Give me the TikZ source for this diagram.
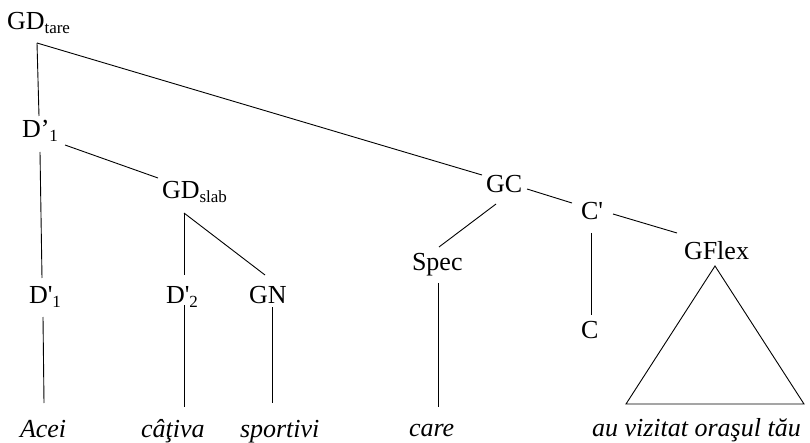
\documentclass[tikz,border=0pt]{standalone}
\usepackage{fontspec}
\setmainfont{Liberation Serif}
\newfontfamily\plainrm{Liberation Serif}[Ligatures=TeXOff]
\usetikzlibrary{calc}
\newcommand\subtxt[1]{\raisebox{-4pt}{\fontsize{17}{17}\selectfont #1}}
\newcommand\sq{{\plainrm'}}
\begin{document}
\begin{tikzpicture}[x=1pt,y=-1pt,
  lbl/.style={inner sep=0pt, outer sep=0pt, anchor=base west, font=\fontsize{26}{30}\selectfont},
  wd/.style={lbl, font=\fontsize{26}{30}\selectfont\itshape},
  edge/.style={draw=black, line width=0.9pt}]
\useasboundingbox (0,0) rectangle (810,443);
% labels
\node[lbl] (gdtare) at (7,30) {GD\subtxt{tare}};
\node[lbl] (d1a) at (22,138) {D’\subtxt{1}};
\node[lbl] (gdslab) at (162,199) {GD\subtxt{slab}};
\node[lbl] (gc) at (486,193) {GC};
\node[lbl] (cbar) at (581,220) {C\sq};
\node[lbl] (gflex) at (684,260) {GFlex};
\node[lbl] (spec) at (412,271) {Spec};
\node[lbl] (d1b) at (29,303) {D\sq\subtxt{1}};
\node[lbl] (d2) at (166,303) {D\sq\subtxt{2}};
\node[lbl] (gn) at (249,303) {GN};
\node[lbl] (c) at (581,338) {C};
\node[wd] (acei) at (20,437) {Acei};
\node[wd] (cativa) at (141,437) {câţiva};
\node[wd] (sportivi) at (240,437) {sportivi};
\node[wd] (care) at (409,436) {care};
\node[wd] (au) at (592,436) {au vizitat oraşul tău};
% connectors
\draw[edge] ($(gdtare.base west)+(30,13)$) -- ($(d1a.base west)+(17,-22)$);
\draw[edge] ($(gdtare.base west)+(30,13)$) -- ($(gc.base west)+(-4,-18)$);
\draw[edge] ($(d1a.base west)+(18,14)$) -- ($(d1b.base west)+(13,-25)$);
\draw[edge] ($(d1a.base west)+(43,7)$) -- ($(gdslab.base west)+(-4,-21)$);
\draw[edge] ($(gdslab.base west)+(22,14)$) -- ($(d2.base west)+(18,-28)$);
\draw[edge] ($(gdslab.base west)+(22,14)$) -- ($(gn.base west)+(16,-28)$);
\draw[edge] ($(d1b.base west)+(14,14)$) -- ($(acei.base west)+(24,-34)$);
\draw[edge] ($(d2.base west)+(18,2)$) -- ($(cativa.base west)+(43,-30)$);
\draw[edge] ($(gn.base west)+(23,4)$) -- ($(sportivi.base west)+(32,-34)$);
\draw[edge] ($(gc.base west)+(10,11)$) -- ($(spec.base west)+(27,-24)$);
\draw[edge] ($(spec.base west)+(26,12)$) -- ($(care.base west)+(29,-29)$);
\draw[edge] ($(gc.base west)+(41,-4)$) -- ($(cbar.base west)+(-9,-17)$);
\draw[edge] ($(cbar.base west)+(10,13)$) -- ($(c.base west)+(10,-23)$);
\draw[edge] ($(cbar.base west)+(32,-6)$) -- ($(gflex.base west)+(-7,-27)$);
\draw[edge] ($(gflex.base west)+(31,6)$) -- ($(au.base west)+(34,-32)$) -- ($(au.base west)+(212,-32)$) -- cycle;
\end{tikzpicture}
\end{document}
